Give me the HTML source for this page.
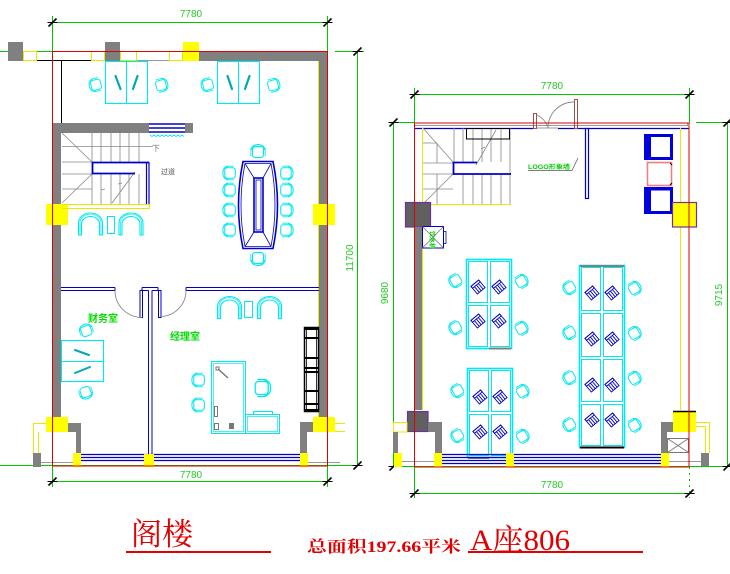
<!DOCTYPE html>
<html><head><meta charset="utf-8">
<style>
html,body{margin:0;padding:0;background:#fff;}
svg{display:block;}
text{font-family:"Liberation Sans","Noto Sans CJK SC",sans-serif;}
</style></head><body>
<svg width="730" height="574" viewBox="0 0 730 574" xmlns="http://www.w3.org/2000/svg">
<defs>
  <g id="ch" fill="none" stroke="#00e8f0" stroke-width="1">
    <rect x="-5" y="-6" width="10" height="10" rx="2.5"/>
    <path d="M-6,1 C-6.5,7.5 6.5,7.5 6,1"/>
    <path d="M-6.5,-4.5 V2.5 M6.5,-4.5 V2.5" stroke-width="0.8"/>
  </g>
  <g id="bc" fill="none" stroke="#0000c8" stroke-width="0.9">
    <g transform="rotate(-40)">
      <rect x="-5" y="-5" width="10" height="10"/>
      <rect x="-5" y="-5" width="10" height="2.5"/>
      <path d="M-2.5,-2.5 V5 M0,-2.5 V5 M2.5,-2.5 V5"/>
    </g>
  </g>
  <g id="ac" fill="none" stroke="#00e8f0" stroke-width="1.1">
    <path d="M-12,11 V-1 A12,10 0 0 1 12,-1 V11 H9 V0 A9,7.5 0 0 0 -9,0 V11 Z"/>
    <path d="M-10.5,11 V-1 A10.5,8.8 0 0 1 10.5,-1 V11" stroke-width="0.7"/>
  </g>
  <g id="tk" stroke="#000" stroke-width="1.6">
    <line x1="-4" y1="4" x2="4" y2="-4"/>
    <line x1="-5" y1="0" x2="5" y2="0" stroke-width="1"/>
  </g>
</defs>
<rect width="730" height="574" fill="#fff"/>

<!-- ================= LEFT PLAN ================= -->
<g stroke="#00c800" stroke-width="1" fill="none">
  <line x1="52" y1="22.5" x2="328" y2="22.5"/>
  <line x1="52.5" y1="16" x2="52.5" y2="51"/>
  <line x1="327.5" y1="16" x2="327.5" y2="51"/>
  <line x1="0" y1="51.5" x2="52" y2="51.5"/>
  <line x1="335" y1="51.5" x2="364" y2="51.5"/>
  <line x1="357.5" y1="51" x2="357.5" y2="466"/>
  <line x1="0" y1="465.5" x2="362" y2="465.5"/>
  <line x1="52.5" y1="466" x2="52.5" y2="487"/>
  <line x1="327.5" y1="466" x2="327.5" y2="487"/>
  <line x1="52" y1="481.5" x2="328" y2="481.5"/>
</g>
<use href="#tk" x="52.5" y="22.5"/><use href="#tk" x="327.5" y="22.5"/>
<use href="#tk" x="357.5" y="51.5"/><use href="#tk" x="357.5" y="465.5"/>
<use href="#tk" x="52.5" y="481.5"/><use href="#tk" x="327.5" y="481.5"/>
<g fill="#22cc22" font-size="10" text-anchor="middle">
  <text x="191" y="17">7780</text>
  <text x="191" y="478">7780</text>
  <text transform="translate(353,258) rotate(-90)">11700</text>
</g>

<rect x="8" y="42" width="15" height="19" fill="#808080"/>
<rect x="105" y="42" width="15" height="19" fill="#808080"/>
<rect x="183" y="42" width="16" height="19" fill="#ffff00"/>
<rect x="199" y="51" width="120" height="10" fill="#808080"/>
<g fill="none" stroke="#e8e800" stroke-width="1">
  <rect x="23.5" y="51.5" width="13" height="9"/>
  <rect x="91.5" y="51.5" width="13" height="9"/>
  <rect x="120.5" y="51.5" width="16" height="9"/>
  <rect x="169.5" y="51.5" width="13" height="9"/>
</g>
<line x1="137" y1="60.5" x2="169" y2="60.5" stroke="#999"/>
<line x1="37" y1="60.5" x2="91" y2="60.5" stroke="#000"/>
<line x1="61.5" y1="60.5" x2="61.5" y2="123" stroke="#000"/>

<rect x="319" y="51" width="8" height="366" fill="#808080"/>
<line x1="318.5" y1="61" x2="318.5" y2="417" stroke="#e8e800"/>
<rect x="53" y="123" width="8" height="294" fill="#808080"/>
<rect x="46" y="204" width="22" height="21" fill="#ffff00"/>
<rect x="313" y="204" width="22" height="21" fill="#ffff00"/>

<rect x="53" y="123" width="96" height="10" fill="#808080"/>
<g stroke="#0000c8" stroke-width="1.6">
  <line x1="149" y1="124" x2="185" y2="124"/>
  <line x1="149" y1="128" x2="185" y2="128"/>
  <line x1="149" y1="132" x2="185" y2="132"/>
</g>
<rect x="185" y="123" width="8" height="10" fill="#808080"/>
<path d="M150,135 l2,1.5 l2,-1.5 l2,1.5 l2,-1.5 l2,1.5 l2,-1.5 l2,1.5 l2,-1.5 l2,1.5 l2,-1.5 l2,1.5 l2,-1.5 l2,1.5 l2,-1.5 l2,1.5 l2,-1.5 l2,1.5" fill="none" stroke="#00e8f0" stroke-width="0.8"/>

<g stroke="#888" stroke-width="0.8" fill="none">
  <path d="M92,133 V162 M101,133 V162 M111,133 V162 M120,133 V162 M129,133 V162 M139,133 V162"/>
  <path d="M101,174 V204 M111,174 V204 M120,174 V204 M129,174 V204 M139,174 V204 M92,174 V204"/>
  <path d="M62,146.5 H153 M62,162 H92 M62,174 H92 M62,189 H92"/>
  <path d="M62,133 L92,162 M62,203 L92,174"/>
  <path d="M135,172 L112,203 M105,189 l-4,1 M122,183 l-4,1"/>
</g>
<path d="M149,162.5 H92.5 V173.5 H135" fill="none" stroke="#0000c8" stroke-width="1.8"/>
<path d="M146.5,162 V204 M149,162 V204" stroke="#0000c8" stroke-width="1.2"/>
<path d="M62,204.5 H149.5 V208.5 H62" fill="none" stroke="#e8e800" stroke-width="1"/>
<text x="152" y="151" font-size="8" fill="#777">下</text>
<text x="161" y="174" font-size="7" fill="#888" font-weight="bold">过道</text>

<use href="#ac" x="90.5" y="224"/>
<rect x="107.5" y="216.5" width="7" height="17" fill="none" stroke="#00e8f0"/>
<use href="#ac" x="131" y="224"/>

<g fill="none" stroke="#00e8f0" stroke-width="1.1">
  <rect x="105.5" y="61.5" width="42" height="42"/>
  <line x1="126.5" y1="61.5" x2="126.5" y2="103.5"/>
  <rect x="217.5" y="61.5" width="42" height="42"/>
  <line x1="238.5" y1="61.5" x2="238.5" y2="103.5"/>
</g>
<g stroke="#00a8b8" stroke-width="2.2" stroke-linecap="round">
  <line x1="115.5" y1="76" x2="120.5" y2="89"/>
  <line x1="137.5" y1="76" x2="133" y2="89"/>
  <line x1="227.5" y1="76" x2="232" y2="89"/>
  <line x1="249.5" y1="76" x2="245" y2="89"/>
</g>
<use href="#ch" transform="translate(95,85) rotate(75)"/>
<use href="#ch" transform="translate(162,85) rotate(-105)"/>
<use href="#ch" transform="translate(207,85) rotate(75)"/>
<use href="#ch" transform="translate(274,85) rotate(-105)"/>

<g fill="none" stroke="#0000c8">
  <path d="M243,161.5 H273 Q282,205 273,248.5 H243 Q234,205 243,161.5 Z" stroke-width="1.6"/>
  <path d="M245,163.5 H271 Q279,205 271,246.5 H245 Q237,205 245,163.5 Z" stroke-width="0.8"/>
  <rect x="254" y="178" width="9" height="54" stroke-width="1.6"/>
  <rect x="256" y="180" width="5" height="50" stroke-width="0.8"/>
  <path d="M245,163.5 L254,178 M271,163.5 L263,178 M245,246.5 L254,232 M271,246.5 L263,232" stroke-width="0.8"/>
</g>
<use href="#ch" transform="translate(258,151) rotate(180) scale(1.1)"/>
<use href="#ch" transform="translate(258,259) scale(1.1)"/>
<use href="#ch" transform="translate(229,173) rotate(90) scale(1.05)"/>
<use href="#ch" transform="translate(229,190) rotate(90) scale(1.05)"/>
<use href="#ch" transform="translate(229,210) rotate(90) scale(1.05)"/>
<use href="#ch" transform="translate(229,230) rotate(90) scale(1.05)"/>
<use href="#ch" transform="translate(287,173) rotate(-90) scale(1.05)"/>
<use href="#ch" transform="translate(287,190) rotate(-90) scale(1.05)"/>
<use href="#ch" transform="translate(287,210) rotate(-90) scale(1.05)"/>
<use href="#ch" transform="translate(287,230) rotate(-90) scale(1.05)"/>

<g stroke="#0000c8" stroke-width="1" fill="none">
  <path d="M61,287.5 H115 M61,290.5 H115 M115,287.5 V290.5"/>
  <path d="M142,287.5 H158 M142,290.5 H148.5 M152,290.5 H158 M142,287.5 V290.5 M158,287.5 V290.5"/>
  <path d="M186,287.5 H319 M186,290.5 H319 M186,287.5 V290.5"/>
  <path d="M148.5,290.5 V455 M152,290.5 V455"/>
  <rect x="140" y="290.5" width="2.5" height="27"/>
  <rect x="158.5" y="290.5" width="2.5" height="27"/>
</g>
<g stroke="#888" fill="none" stroke-width="0.9">
  <path d="M115,290.5 A27,27 0 0 0 142,317.5"/>
  <path d="M186,290.5 A26,26 0 0 1 160,316.5"/>
</g>
<g fill="#00dd00" font-weight="bold" font-size="10">
  <text x="88" y="322" textLength="30" lengthAdjust="spacingAndGlyphs">财务室</text>
  <text x="170" y="340" textLength="30" lengthAdjust="spacingAndGlyphs">经理室</text>
</g>

<g fill="none" stroke="#00e8f0" stroke-width="1.1">
  <rect x="61.5" y="340.5" width="42" height="41"/>
  <line x1="61.5" y1="361.5" x2="103.5" y2="361.5"/>
</g>
<g stroke="#00a8b8" stroke-width="2" stroke-linecap="round">
  <line x1="75" y1="350" x2="89" y2="355"/>
  <line x1="75" y1="373" x2="90" y2="367"/>
</g>
<use href="#ch" transform="translate(86,330) rotate(160)"/>
<use href="#ch" transform="translate(86,393) rotate(-20)"/>

<use href="#ac" x="229.5" y="307.5"/>
<rect x="244.5" y="301.5" width="8" height="16" fill="none" stroke="#00e8f0"/>
<use href="#ac" x="269.5" y="307.5"/>
<g fill="none" stroke="#00e8f0" stroke-width="1">
  <rect x="211.5" y="361.5" width="34" height="72"/>
  <rect x="213.5" y="363.5" width="30" height="68" stroke-width="0.7"/>
  <rect x="245.5" y="414.5" width="34" height="19"/>
  <rect x="247.5" y="416.5" width="30" height="15" stroke-width="0.7"/>
  <rect x="253.5" y="411.5" width="19" height="3"/>
</g>
<line x1="218" y1="369" x2="228" y2="378" stroke="#777" stroke-width="1.5"/>
<rect x="216" y="367" width="3" height="3" fill="none" stroke="#777"/>
<rect x="214.5" y="406.5" width="3" height="10" fill="none" stroke="#777"/>
<rect x="214.5" y="423.5" width="4" height="6" fill="none" stroke="#777"/>
<rect x="229" y="423" width="5" height="6" fill="#777"/>
<use href="#ch" transform="translate(198,380) rotate(90) scale(1.05)"/>
<use href="#ch" transform="translate(198,405) rotate(90) scale(1.05)"/>
<use href="#ch" transform="translate(263,388) rotate(-90) scale(1.3)"/>

<g fill="none" stroke="#000">
  <rect x="304.5" y="327.5" width="14" height="84" stroke-width="1.5"/>
  <path d="M306.5,328 V411 M316.5,328 V411" stroke-width="0.8"/>
  <path d="M304.5,329 H318.5 M304.5,338 H318.5 M304.5,358 H318.5 M304.5,368 H318.5 M304.5,372 H318.5 M304.5,391 H318.5 M304.5,404 H318.5 M304.5,410 H318.5" stroke-width="2"/>
</g>

<path d="M33.5,453 V423.5 H46 M38.5,453 V432" fill="none" stroke="#e8e800"/>
<rect x="46" y="417" width="22" height="15" fill="#ffff00"/>
<rect x="68" y="423" width="13" height="9" fill="#808080"/>
<rect x="76" y="423" width="5" height="30" fill="#808080"/>
<rect x="33" y="453" width="8" height="14" fill="#808080"/>
<rect x="73" y="453" width="8" height="14" fill="#ffff00"/>
<rect x="313" y="417" width="22" height="15" fill="#ffff00"/>
<path d="M335,423.5 H345 M335,431.5 H345" stroke="#e8e800"/>
<rect x="300" y="422" width="13" height="10" fill="#808080"/>
<rect x="300" y="422" width="7" height="31" fill="#808080"/>
<rect x="300" y="453" width="8" height="14" fill="#ffff00"/>
<g stroke="#0000c8" stroke-width="1.2">
  <line x1="81" y1="454.5" x2="300" y2="454.5"/>
  <line x1="81" y1="457.5" x2="300" y2="457.5"/>
  <line x1="81" y1="460.5" x2="300" y2="460.5"/>
</g>
<rect x="144" y="454" width="10" height="13" fill="#ffff00"/>
<path d="M41,462.5 H73 M308,462.5 H340" stroke="#999"/>

<rect x="52.5" y="51.5" width="275" height="414.5" fill="none" stroke="#e00000" stroke-width="1"/>

<!-- ================= RIGHT PLAN ================= -->
<g stroke="#00c800" stroke-width="1" fill="none">
  <line x1="414" y1="94.5" x2="689" y2="94.5"/>
  <line x1="414.5" y1="88" x2="414.5" y2="123"/>
  <line x1="689.5" y1="88" x2="689.5" y2="123"/>
  <line x1="389" y1="122.5" x2="414" y2="122.5"/>
  <line x1="696" y1="122.5" x2="730" y2="122.5"/>
  <line x1="393.5" y1="122" x2="393.5" y2="467"/>
  <line x1="727.5" y1="122" x2="727.5" y2="467"/>
  <line x1="390" y1="466.5" x2="730" y2="466.5"/>
  <line x1="414.5" y1="467" x2="414.5" y2="498"/>
  <line x1="689.5" y1="467" x2="689.5" y2="498" stroke-dasharray="2,4"/>
  <line x1="414" y1="493.5" x2="689" y2="493.5"/>
</g>
<use href="#tk" x="414.5" y="94.5"/><use href="#tk" x="689.5" y="94.5"/>
<use href="#tk" x="393.5" y="122.5"/><use href="#tk" x="727.5" y="122.5"/>
<use href="#tk" x="393.5" y="466.5"/><use href="#tk" x="727.5" y="466.5"/>
<use href="#tk" x="414.5" y="493.5"/><use href="#tk" x="689.5" y="493.5"/>
<g fill="#22cc22" font-size="10" text-anchor="middle">
  <text x="552" y="89">7780</text>
  <text x="552" y="488">7780</text>
  <text transform="translate(388,293) rotate(-90)">9680</text>
  <text transform="translate(722,295) rotate(-90)">9715</text>
</g>

<path d="M414,125.5 H687.5 V123" fill="none" stroke="#999"/>
<path d="M414,128.5 H533 M558,128.5 H689" stroke="#0000c8" stroke-width="1.2"/>
<line x1="536" y1="128" x2="558" y2="128" stroke="#999"/>
<g fill="none" stroke="#a05050" stroke-width="1">
  <rect x="533.5" y="113.5" width="3" height="15"/>
  <rect x="574.5" y="99.5" width="3" height="29"/>
</g>
<g fill="none" stroke="#888" stroke-width="0.9">
  <path d="M548,128 A26,26 0 0 1 574,102"/>
  <path d="M537,115 Q545,119 548,127"/>
</g>
<rect x="585.5" y="128.5" width="3" height="70" fill="none" stroke="#0000c8" stroke-width="1.2"/>
<text x="528" y="169" font-size="6" fill="#00cc00" font-weight="bold" textLength="42" lengthAdjust="spacingAndGlyphs">LOGO形象墙</text>
<path d="M528,170.5 H572 L578,158" fill="none" stroke="#555" stroke-width="0.7"/>

<g stroke="#888" stroke-width="0.8" fill="none">
  <path d="M454,128 V162 M463,128 V162 M473,128 V162 M482,128 V162 M491,128 V162 M501,128 V162 M510,128 V204"/>
  <path d="M463,174 V204 M473,174 V204 M482,174 V204 M491,174 V204 M501,174 V204"/>
  <path d="M423,143 H437 M437,143 V163 M423,163 H453 M423,174 H453 M423,189 H453 M437,174 V204"/>
  <path d="M423,128 L453,162 M423,204 L453,174"/>
  <path d="M496,130 L476,165 M485,147 l-4,2"/>
</g>
<rect x="466.5" y="128.5" width="43" height="10.5" fill="none" stroke="#000"/>
<path d="M477,162.5 H453.5 V174 H511" fill="none" stroke="#0000c8" stroke-width="1.8"/>
<line x1="423" y1="204.5" x2="511" y2="204.5" stroke="#e8e800"/>
<line x1="422.5" y1="128" x2="422.5" y2="410" stroke="#e8e800"/>
<line x1="680.5" y1="128" x2="680.5" y2="410" stroke="#e8e800"/>

<rect x="644" y="134" width="29" height="26" fill="#0000e0"/>
<rect x="651" y="137" width="19" height="20" fill="#fff"/>
<rect x="644" y="187" width="29" height="27" fill="#0000e0"/>
<rect x="651" y="190.5" width="19" height="20.5" fill="#fff"/>
<rect x="647.5" y="162.5" width="24" height="23" fill="none" stroke="#f08080" stroke-width="1.6"/>
<path d="M670,163 l2,2 M670,185 l2,-2" stroke="#000"/>
<rect x="405.5" y="202.5" width="25" height="24.5" fill="#606060" stroke="#7030a0" stroke-width="1.2"/>
<rect x="672.5" y="202.5" width="24" height="24.5" fill="#ffff00" stroke="#7030a0" stroke-width="1.2"/>
<rect x="415" y="227" width="7" height="183" fill="#808080"/>
<rect x="422.5" y="226.5" width="21" height="21.5" fill="#fff" stroke="#0000c8"/>
<path d="M422.5,226.5 L443.5,248 M443.5,226.5 L422.5,248" stroke="#777" stroke-width="0.8"/>
<rect x="443.5" y="231.5" width="2.5" height="12" fill="none" stroke="#0000c8" stroke-width="0.8"/>
<text transform="translate(430,231) rotate(90)" font-size="6" fill="#00cc00" font-weight="bold">饮水机</text>

<g fill="none" stroke="#00e8f0">
  <rect x="466.5" y="259.5" width="45" height="89" stroke-width="1.6"/>
  <rect x="468.5" y="261.5" width="19" height="41"/>
  <rect x="490.5" y="261.5" width="19" height="41"/>
  <rect x="468.5" y="305.5" width="19" height="41"/>
  <rect x="490.5" y="305.5" width="19" height="41"/>
  <rect x="467.5" y="368.5" width="45" height="89" stroke-width="1.6"/>
  <rect x="469.5" y="370.5" width="19" height="41"/>
  <rect x="491.5" y="370.5" width="19" height="41"/>
  <rect x="469.5" y="414.5" width="19" height="41"/>
  <rect x="491.5" y="414.5" width="19" height="41"/>
  <rect x="579.5" y="265.5" width="45" height="182" stroke-width="1.6"/>
  <rect x="581.5" y="267.5" width="19" height="43"/>
  <rect x="603.5" y="267.5" width="19" height="43"/>
  <rect x="581.5" y="313.5" width="19" height="43"/>
  <rect x="603.5" y="313.5" width="19" height="43"/>
  <rect x="581.5" y="359.5" width="19" height="42"/>
  <rect x="603.5" y="359.5" width="19" height="42"/>
  <rect x="581.5" y="404.5" width="19" height="41"/>
  <rect x="603.5" y="404.5" width="19" height="41"/>
</g>
<path d="M489,348.5 H511 M468,458 H489 M580,266 H624" stroke="#808080" stroke-width="2"/>
<path d="M580,447.5 H624" stroke="#000" stroke-width="2"/>

<use href="#bc" x="478" y="287"/><use href="#bc" x="499" y="287"/>
<use href="#bc" x="478" y="321"/><use href="#bc" x="499" y="321"/>
<use href="#bc" x="480" y="397"/><use href="#bc" x="500" y="397"/>
<use href="#bc" x="480" y="432"/><use href="#bc" x="500" y="432"/>
<use href="#bc" x="592" y="293"/><use href="#bc" x="612" y="293"/>
<use href="#bc" x="592" y="339"/><use href="#bc" x="612" y="339"/>
<use href="#bc" x="592" y="385"/><use href="#bc" x="612" y="385"/>
<use href="#bc" x="592" y="420"/><use href="#bc" x="612" y="420"/>

<use href="#ch" transform="translate(455,281) rotate(60)"/>
<use href="#ch" transform="translate(455,328) rotate(60)"/>
<use href="#ch" transform="translate(522,281) rotate(-120)"/>
<use href="#ch" transform="translate(522,328) rotate(-120)"/>
<use href="#ch" transform="translate(457,391) rotate(60)"/>
<use href="#ch" transform="translate(457,436) rotate(60)"/>
<use href="#ch" transform="translate(523,391) rotate(-120)"/>
<use href="#ch" transform="translate(523,436) rotate(-120)"/>
<use href="#ch" transform="translate(569,288) rotate(60)"/>
<use href="#ch" transform="translate(569,333) rotate(60)"/>
<use href="#ch" transform="translate(569,378) rotate(60)"/>
<use href="#ch" transform="translate(569,425) rotate(60)"/>
<use href="#ch" transform="translate(635,288) rotate(-120)"/>
<use href="#ch" transform="translate(635,333) rotate(-120)"/>
<use href="#ch" transform="translate(635,378) rotate(-120)"/>
<use href="#ch" transform="translate(635,425) rotate(-120)"/>

<rect x="407.5" y="411.5" width="20.5" height="20" fill="#606060" stroke="#7030a0" stroke-width="1.2"/>
<rect x="393.5" y="422.5" width="13.5" height="9.5" fill="none" stroke="#e8e800"/>
<rect x="428" y="422" width="14" height="10" fill="#808080"/>
<rect x="393" y="432" width="5" height="21" fill="#808080"/>
<rect x="435" y="432" width="7" height="21" fill="#808080"/>
<rect x="394" y="453" width="8" height="14" fill="#ffff00"/>
<rect x="434" y="453" width="8" height="14" fill="#ffff00"/>
<path d="M402,461.5 H434" stroke="#999"/>
<rect x="673" y="411" width="23" height="21" fill="#ffff00"/>
<line x1="673" y1="411.5" x2="696" y2="411.5" stroke="#000" stroke-width="1.5"/>
<path d="M696,422.5 H709.5 V453 M696,426.5 H705.5 V453" fill="none" stroke="#e8e800"/>
<rect x="661" y="422" width="12" height="10" fill="#808080"/>
<rect x="661" y="432" width="6" height="21" fill="#808080"/>
<rect x="661" y="453" width="8" height="14" fill="#ffff00"/>
<rect x="667.5" y="438.5" width="21" height="14" fill="#fff" stroke="#777"/>
<path d="M667.5,438.5 L688.5,452.5 M688.5,438.5 L667.5,452.5" stroke="#777" stroke-width="0.8"/>
<rect x="701" y="453" width="8" height="13" fill="#808080"/>
<path d="M669,461.5 H701" stroke="#999"/>
<g stroke="#0000c8" stroke-width="1.2">
  <line x1="442" y1="454.5" x2="661" y2="454.5"/>
  <line x1="442" y1="457.5" x2="661" y2="457.5"/>
  <line x1="442" y1="460.5" x2="661" y2="460.5"/>
  <line x1="442" y1="463.5" x2="661" y2="463.5"/>
</g>
<rect x="506" y="453" width="8" height="14" fill="#ffff00"/>

<rect x="414.5" y="123" width="274.5" height="344" fill="none" stroke="#e00000" stroke-width="1"/>

<!-- ================= TITLE ================= -->
<text x="131" y="545" font-size="31" fill="#e00000" style="font-family:'Noto Serif CJK SC','Noto Sans CJK SC',serif" textLength="62" lengthAdjust="spacingAndGlyphs">阁楼</text>
<line x1="126" y1="552" x2="271" y2="552" stroke="#e00000" stroke-width="2"/>
<text x="307" y="552" font-size="16" fill="#e00000" font-weight="bold" style="font-family:'Liberation Serif','Noto Serif CJK SC',serif" textLength="154" lengthAdjust="spacingAndGlyphs">总面积197.66平米</text>
<text x="470" y="550" font-size="30" fill="#e00000" style="font-family:'Liberation Serif','Noto Serif CJK SC',serif" textLength="100" lengthAdjust="spacingAndGlyphs">A座806</text>
<line x1="468" y1="552" x2="643" y2="552" stroke="#e00000" stroke-width="2"/>
</svg>
</body></html>
